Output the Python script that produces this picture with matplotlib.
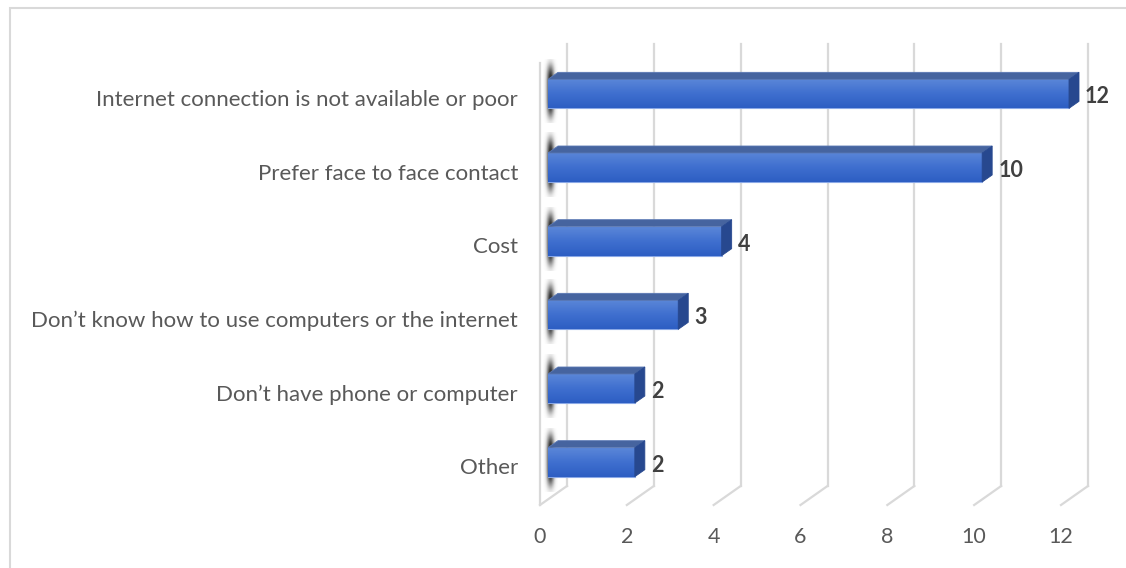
import numpy as np
import matplotlib.pyplot as plt
from matplotlib.colors import LinearSegmentedColormap
from matplotlib.patches import Polygon, Rectangle

# survey answers, bottom to top
reasons = ['Other',
           'Don\u2019t have phone or computer',
           'Don\u2019t know how to use computers or the internet',
           'Cost',
           'Prefer face to face contact',
           'Internet connection is not available or poor']
counts = [2, 2, 3, 4, 10, 12]
x_ticks = [0, 2, 4, 6, 8, 10, 12]

W, H = 1126, 568
fig = plt.figure(figsize=(W / 100, H / 100), dpi=100)

# outer chart border
fig.patches.append(Rectangle((10 / W, -0.05), 1.2, (H - 8) / H + 0.05,
                             transform=fig.transFigure, fill=False,
                             edgecolor='#d9d9d9', linewidth=1.5))

# front plane of the plot area in pixels
left_px, right_px, top_px, bot_px = 540, 1061, 63, 505
ax = fig.add_axes([left_px / W, (H - bot_px) / H,
                   (right_px - left_px) / W, (bot_px - top_px) / H])
ax.set_xlim(0, 12)
ax.set_ylim(-0.5, len(reasons) - 0.5)
ax.axis('off')

sx = (right_px - left_px) / 12.0          # pixels per unit along x
sy = (bot_px - top_px) / len(reasons)     # pixels per category

def dx(px):
    return px / sx

def dy(px):
    return px / sy

grid_c = '#d9d9d9'
depth_x, depth_y = dx(27), dy(19)
y0, y1 = -0.5, len(reasons) - 0.5

# back wall gridlines and floor edges
for v in x_ticks:
    ax.plot([v + depth_x, v + depth_x], [y0 + depth_y, y1 + depth_y],
            color=grid_c, lw=1.6, clip_on=False, zorder=1)
    ax.plot([v, v + depth_x], [y0, y0 + depth_y],
            color=grid_c, lw=1.6, clip_on=False, zorder=1)
# left wall front edge
ax.plot([0, 0], [y0, y1], color=grid_c, lw=1.6, clip_on=False, zorder=1)

# bar geometry (front face sits a little inside the depth)
off_x, off_y = dx(8), dy(6)
bd_x, bd_y = dx(10), dy(7)
bar_h = dy(29)

face_cmap = LinearSegmentedColormap.from_list('face', ['#2d5ec3', '#3f6fcf', '#5a86d8'])
grad = np.linspace(0, 1, 64).reshape(-1, 1)

# soft shadow blobs on the left wall
gy = np.linspace(-1, 1, 120)
gx = np.linspace(-1, 1, 24)
blob = np.exp(-(gx[None, :] / 0.5) ** 2) * np.exp(-(gy[:, None] / 0.8) ** 4)
shadow = np.zeros((120, 24, 4))
shadow[..., :3] = 0.15
shadow[..., 3] = np.clip(blob * 1.1, 0, 0.92)

for i, (name, val) in enumerate(zip(reasons, counts)):
    yc = i + off_y
    yb, yt = yc - bar_h / 2, yc + bar_h / 2
    xl, xr = off_x, val + off_x

    ax.imshow(shadow, extent=[dx(3), dx(18), yb - dy(15), yt + dy(20)],
              aspect='auto', zorder=2, clip_on=False, interpolation='bilinear')

    ax.barh(yc, val, left=off_x, height=bar_h, color='#3f6fcf',
            edgecolor='#8aa8e6', linewidth=0.8, zorder=3, clip_on=False)
    ax.imshow(grad, extent=[xl, xr, yb, yt], cmap=face_cmap, origin='lower',
              aspect='auto', zorder=3.5, clip_on=False, interpolation='bilinear')

    top = Polygon([(xl, yt), (xr, yt), (xr + bd_x, yt + bd_y), (xl + bd_x, yt + bd_y)],
                  closed=True, facecolor='#46649f', edgecolor='#5a78b4', lw=0.6,
                  zorder=4, clip_on=False)
    side = Polygon([(xr, yb), (xr, yt), (xr + bd_x, yt + bd_y), (xr + bd_x, yb + bd_y)],
                   closed=True, facecolor='#27488f', edgecolor='#27488f', lw=0.6,
                   zorder=4, clip_on=False)
    ax.add_patch(top)
    ax.add_patch(side)

    ax.text(xr + bd_x + dx(6), i + dy(3), str(val), ha='left', va='center',
            fontsize=15.5, fontweight='bold', color='#404040', family='Lato',
            clip_on=False)
    ax.text(dx(-22), i, name, ha='right', va='center', fontsize=16,
            color='#595959', family='Lato', clip_on=False)

for v in x_ticks:
    ax.text(v, y0 - dy(32), str(v), ha='center', va='center', fontsize=15.5,
            color='#595959', family='Lato', clip_on=False)

fig.savefig('out.png', dpi=100)
